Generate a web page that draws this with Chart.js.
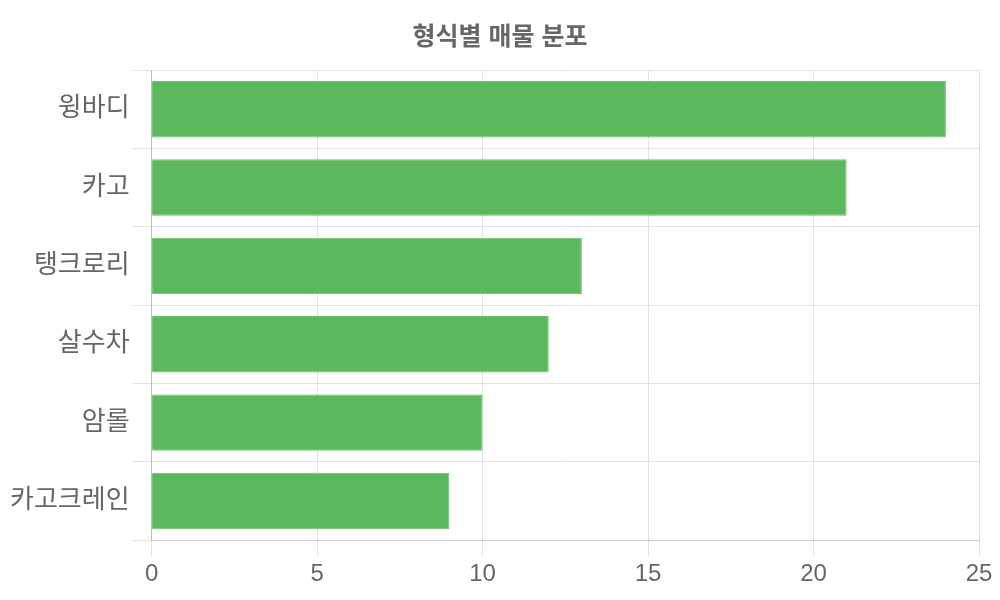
<!DOCTYPE html>
<html>
<head>
<meta charset="utf-8">
<script src="https://cdn.jsdelivr.net/npm/chart.js@4"></script>
<style>
  html, body { margin: 0; padding: 0; background: #fff; }
  #wrap { width: 1000px; height: 600px; }
</style>
</head>
<body>
<div id="wrap"><canvas id="GraficaTipos"></canvas></div>
<script>
// datos de la grafica
const categorias = ['윙바디', '카고', '탱크로리', '살수차', '암롤', '카고크레인'];
const totales = [24, 21, 13, 12, 10, 9];
const ticksX = [0, 5, 10, 15, 20, 25];

const fuente = "'Liberation Sans', 'Noto Sans CJK KR', sans-serif";
Chart.defaults.font.family = fuente;
Chart.defaults.color = '#666';

const $Lienzo = document.getElementById('GraficaTipos');

new Chart($Lienzo, {
    type: 'bar',
    data: {
        labels: categorias,
        datasets: [{
            label: '매물',
            data: totales,
            backgroundColor: '#5cb85c',
            borderColor: '#6cc06c',
            borderWidth: 1
        }]
    },
    options: {
        indexAxis: 'y',
        responsive: true,
        maintainAspectRatio: false,
        animation: false,
        layout: { padding: { left: 7, right: 7, top: 15, bottom: 8 } },
        plugins: {
            legend: { display: false },
            title: {
                display: true,
                text: '형식별 매물 분포',
                color: '#666',
                font: { size: 25, weight: 'bold' },
                padding: { top: 8, bottom: 17 }
            }
        },
        scales: {
            x: {
                min: ticksX[0],
                max: ticksX[ticksX.length - 1],
                afterBuildTicks: function (axis) {
                    axis.ticks = ticksX.map(v => ({ value: v }));
                },
                afterFit: function (axis) {
                    // espacio a la derecha igual que el original
                    axis.paddingRight = 21;
                },
                ticks: { font: { size: 24 }, color: '#666' },
                grid: { color: '#e0e0e0', tickLength: 17 },
                border: { color: '#ccc' }
            },
            y: {
                ticks: { font: { size: 26 }, color: '#666' },
                grid: { color: '#e0e0e0', tickLength: 19 },
                border: { color: '#bbb' }
            }
        }
    }
});
</script>
</body>
</html>
